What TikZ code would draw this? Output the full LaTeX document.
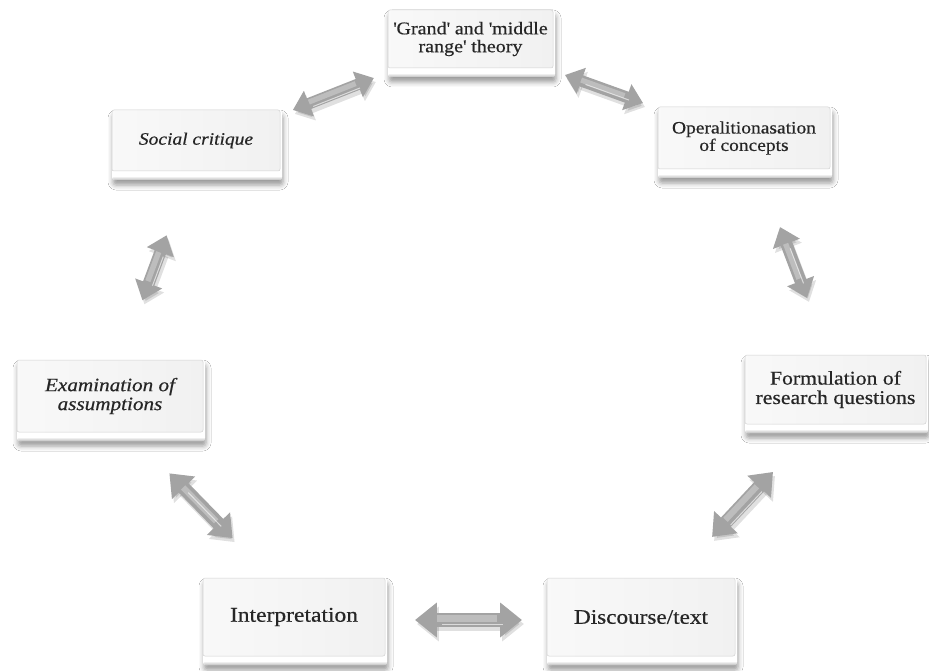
\documentclass[tikz,border=0pt]{standalone}
\usepackage{fontspec}
\setmainfont[FakeStretch=1.12, FakeBold=0.5]{Liberation Serif}
\usetikzlibrary{calc,arrows.meta,shadows.blur}
\definecolor{txt}{HTML}{262626}
\tikzset{
  face/.style={rectangle, rounded corners=2pt, draw=gray!35, line width=0.5pt,
    left color=gray!5, right color=gray!11, text=txt, align=center, inner sep=2pt},
  lip/.style={fill=white, rounded corners=3pt,
    blur shadow={shadow xshift=1pt, shadow yshift=-5pt, shadow blur radius=5pt, shadow opacity=40}}
}
% name, cx, cy, w, h, font, text
\newcommand\bbox[7]{%
  \fill[lip] ({#2-#4/2},{#3-#5/2}) rectangle ({#2+#4/2+2},{#3+#5/2+9});
  \shade[rounded corners=2pt, top color=white, bottom color=gray!50]
    ({#2-#4/2+1},{#3+#5/2+5}) rectangle ({#2+#4/2+2},{#3+#5/2+9});
  \node[face, minimum width={#4*1pt}, minimum height={#5*1pt}, font=#6] (#1) at (#2,#3) {#7};
}
% from, to, scale
\newcommand\biarrow[3]{%
  \pgfmathsetmacro\arrlw{10*#3}%
  \pgfmathsetmacro\arrhw{23*#3}%
  \pgfmathsetmacro\arrhl{15*#3}%
  \pgfmathsetmacro\arrsh{16*#3}%
  \pgfmathsetmacro\arrlb{0.45*\arrlw}%
  \pgfmathsetmacro\arroff{0.28*\arrlw}%
  \draw[line width=\arrlw pt, draw=black, opacity=0.12,
    {Triangle[width=\arrhw pt,length=\arrhl pt]}-{Triangle[width=\arrhw pt,length=\arrhl pt]},
    transform canvas={shift={(2pt,-4pt)}}] #1 -- #2;
  \draw[line width=\arrlw pt, draw=gray!72,
    {Triangle[width=\arrhw pt,length=\arrhl pt]}-{Triangle[width=\arrhw pt,length=\arrhl pt]}] #1 -- #2;
  \draw[line width=\arrlb pt, draw=gray!52, shorten <=\arrsh pt, shorten >=\arrsh pt,
    transform canvas={shift={(-0.1*\arrlw pt,0.1*\arrlw pt)}}] #1 -- #2;
  \draw[line width=1pt, draw=white, opacity=0.6, shorten <=\arrsh pt, shorten >=\arrsh pt,
    transform canvas={shift={(\arroff pt,-\arroff pt)}}] #1 -- #2;
}
\begin{document}
\begin{tikzpicture}[x=1pt,y=-1pt]
\useasboundingbox (0,0) rectangle (929,671);
\fill[white] (0,0) rectangle (929,671);

\bbox{grand}{470.5}{39}{165}{58}{\fontsize{17.9}{17.9}\selectfont}{\textquotesingle Grand\textquotesingle{} and \textquotesingle middle\\ range\textquotesingle{} theory}
\bbox{soc}{196}{140.5}{168}{61}{\itshape\fontsize{17.4}{17.4}\selectfont}{Social critique}
\bbox{op}{744}{138}{172}{62}{\fontsize{17.4}{17.4}\selectfont}{Operalitionasation\\ of concepts}
\bbox{form}{835.5}{389.5}{181}{69}{\fontsize{19.4}{19.4}\selectfont}{Formulation of\\ research questions}
\bbox{exam}{110}{396}{186}{72}{\itshape\fontsize{18.9}{18.9}\selectfont}{Examination of\\ assumptions}
\bbox{interp}{294}{617}{182}{78}{\fontsize{21}{21}\selectfont}{Interpretation}
\bbox{disc}{641}{617}{188}{78}{\fontsize{20.7}{20.7}\selectfont}{Discourse/text}

\biarrow{($(soc)!0.353!(grand)+(0,5.3)$)}{($(soc)!0.648!(grand)+(0,3.3)$)}{1.15}
\biarrow{($(grand)!0.3455!(op)+(0,1.8)$)}{($(grand)!0.6307!(op)+(0,1.6)$)}{1.15}
\biarrow{($(op)!0.354!(form)+(3.6,0)$)}{($(op)!0.636!(form)+(4.8,0)$)}{1.2}
\biarrow{($(disc)!0.352!(form)+(2.6,0)$)}{($(disc)!0.6374!(form)+(8,0)$)}{1.35}
\biarrow{($(interp)!0.3487!(disc)+(0,3)$)}{($(interp)!0.657!(disc)+(0,3)$)}{1.45}
\biarrow{($(exam)!0.35!(interp)+(-5,0)$)}{($(exam)!0.643!(interp)+(4.3,0)$)}{1.35}
\biarrow{($(exam)!0.3745!(soc)+(0.2,0)$)}{($(exam)!0.629!(soc)+(2.5,0)$)}{1.2}
\end{tikzpicture}
\end{document}
